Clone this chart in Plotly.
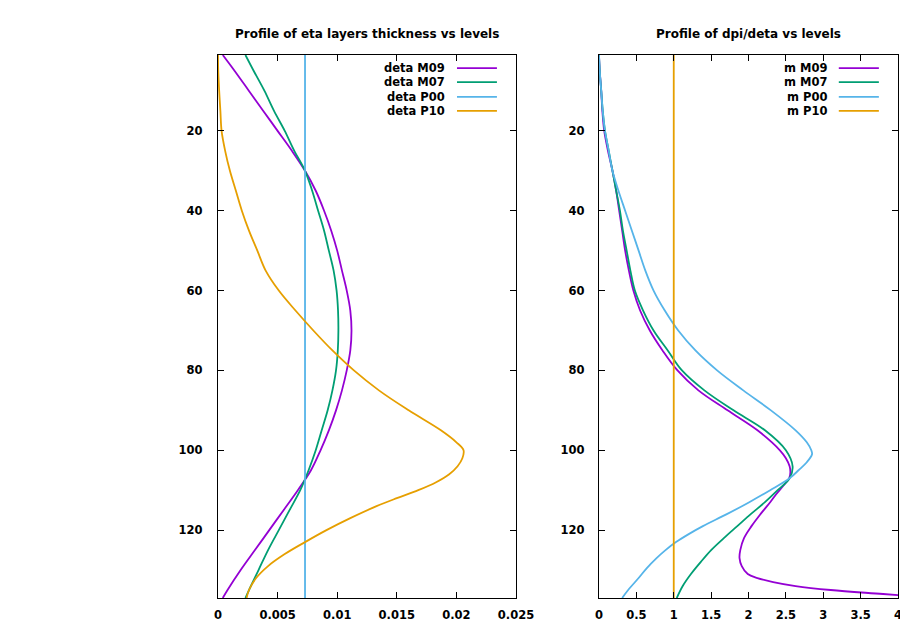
import plotly.graph_objects as go

# ---------------- data ----------------
lev_m09 = [1, 5, 10, 15, 20, 25, 30, 35, 40, 45, 50, 55, 60, 65, 70, 75, 80, 85, 90, 95,
           100, 105, 110, 115, 120, 125, 130, 135, 137]
deta_m09 = [0.0004, 0.0014, 0.0026, 0.0038, 0.0050, 0.0062, 0.0073, 0.0082, 0.0089, 0.0095,
            0.0100, 0.0104, 0.0108, 0.0111, 0.0112, 0.0111, 0.0108, 0.0104, 0.0099, 0.0093,
            0.0086, 0.0078, 0.0067, 0.0055, 0.0043, 0.0031, 0.0019, 0.0008, 0.0004]

lev_m07 = [1, 5, 10, 15, 20, 25, 30, 35, 40, 45, 50, 55, 60, 65, 70, 75, 80, 85, 90, 95,
           100, 105, 110, 115, 120, 125, 130, 135, 137]
deta_m07 = [0.0023, 0.0030, 0.0039, 0.0047, 0.0056, 0.0064, 0.0073, 0.0079, 0.0084, 0.0089,
            0.0093, 0.0097, 0.00995, 0.01007, 0.0101, 0.01005, 0.0099, 0.0096, 0.0092, 0.0087,
            0.0082, 0.0076, 0.0069, 0.0060, 0.0051, 0.0042, 0.0034, 0.0026, 0.0023]

lev_p00 = [1, 137]
deta_p00 = [0.0073, 0.0073]

lev_p10 = [1, 5, 10, 15, 20, 25, 30, 35, 40, 45, 50, 55, 60, 65, 70, 75, 80, 85, 90, 95,
           98, 100, 102, 104, 106, 108, 110, 112, 114, 117, 120, 123, 126, 129, 132, 135, 137]
deta_p10 = [0.0000, 0.00002, 0.0001, 0.0002, 0.0003, 0.0006, 0.0010, 0.0015, 0.0020, 0.0026,
            0.0033, 0.0040, 0.0051, 0.0065, 0.0080, 0.0096, 0.0114, 0.0135, 0.0160, 0.0187,
            0.0200, 0.0206, 0.0205, 0.0201, 0.0194, 0.0183, 0.0168, 0.0150, 0.0133, 0.0111,
            0.0091, 0.0073, 0.0056, 0.0042, 0.0032, 0.0026, 0.0024]

mlev_m09 = [1, 5, 10, 15, 20, 25, 30, 35, 40, 45, 50, 55, 60, 65, 70, 75, 80, 85, 90, 95,
            100, 102, 104, 105.5, 107, 109, 111, 113, 116, 119, 122, 125, 127, 129, 131, 132,
            133, 134, 135, 136, 137]
m_m09 = [0.0, 0.01, 0.03, 0.045, 0.07, 0.12, 0.18, 0.23, 0.27, 0.31, 0.35, 0.40, 0.46, 0.55,
         0.68, 0.85, 1.05, 1.33, 1.72, 2.12, 2.42, 2.50, 2.55, 2.56, 2.545, 2.46, 2.37, 2.29,
         2.16, 2.04, 1.94, 1.89, 1.88, 1.91, 1.99, 2.12, 2.33, 2.63, 3.10, 3.80, 4.50]

mlev_m07 = [1, 5, 10, 15, 20, 25, 30, 35, 40, 45, 50, 55, 60, 65, 70, 75, 80, 85, 90, 95,
            100, 104, 107, 110, 113, 116, 119, 122, 125, 128, 131, 134, 137]
m_m07 = [0.0, 0.01, 0.03, 0.05, 0.08, 0.13, 0.18, 0.23, 0.28, 0.32, 0.37, 0.42, 0.48, 0.59,
         0.73, 0.92, 1.11, 1.41, 1.80, 2.22, 2.50, 2.59, 2.55, 2.39, 2.22, 2.03, 1.85, 1.67,
         1.50, 1.36, 1.23, 1.12, 1.04]

mlev_p00 = [1, 5, 10, 15, 20, 25, 30, 35, 40, 45, 50, 55, 60, 65, 70, 75, 80, 85, 90, 95,
            98, 100, 101, 103, 105, 107, 110, 113, 116, 119, 121, 123, 125, 127, 129.5, 132,
            135, 137]
m_p00 = [0.0, 0.01, 0.03, 0.05, 0.08, 0.13, 0.18, 0.26, 0.35, 0.44, 0.53, 0.62, 0.73, 0.88,
         1.06, 1.29, 1.58, 1.93, 2.30, 2.63, 2.78, 2.84, 2.85, 2.78, 2.67, 2.55, 2.29, 2.01,
         1.71, 1.39, 1.20, 1.03, 0.89, 0.77, 0.64, 0.53, 0.39, 0.31]

mlev_p10 = [1, 137]
m_p10 = [1.0, 1.0]

x1_ticks = [0, 0.005, 0.01, 0.015, 0.02, 0.025]
x1_labels = ["0", "0.005", "0.01", "0.015", "0.02", "0.025"]
x2_ticks = [0, 0.5, 1, 1.5, 2, 2.5, 3, 3.5, 4]
x2_labels = ["0", "0.5", "1", "1.5", "2", "2.5", "3", "3.5", "4"]
y_ticks = [20, 40, 60, 80, 100, 120]

names_left = ["deta M09", "deta M07", "deta P00", "deta P10"]
names_right = ["m M09", "m M07", "m P00", "m P10"]
colors = ["#9400D3", "#009E73", "#56B4E9", "#E69F00"]

# ---------------- figure ----------------
FONT = "DejaVu Sans"
fig = go.Figure()

left = [(deta_m09, lev_m09), (deta_m07, lev_m07), (deta_p00, lev_p00), (deta_p10, lev_p10)]
right = [(m_m09, mlev_m09), (m_m07, mlev_m07), (m_p00, mlev_p00), (m_p10, mlev_p10)]

for (xv, yv), nm, c in zip(left, names_left, colors):
    fig.add_trace(go.Scatter(x=xv, y=yv, mode="lines", name=nm, xaxis="x", yaxis="y",
                             line=dict(color=c, width=1.8, shape="spline", smoothing=1.0),
                             showlegend=False))
for (xv, yv), nm, c in zip(right, names_right, colors):
    fig.add_trace(go.Scatter(x=xv, y=yv, mode="lines", name=nm, xaxis="x2", yaxis="y2",
                             line=dict(color=c, width=1.8, shape="spline", smoothing=1.0),
                             showlegend=False))

W, H = 900, 626


def px(v):
    return v / W


def py(v):
    return (H - v) / H


axis_common = dict(showline=True, linecolor="black", linewidth=1.3, mirror="allticks",
                   ticks="inside", ticklen=6, tickwidth=1.3, tickcolor="black",
                   showgrid=False, zeroline=False, automargin=False,
                   ticklabeloverflow="allow",
                   tickfont=dict(family=FONT, size=11.5, color="black", weight="bold"))

fig.update_layout(
    width=W, height=H,
    margin=dict(l=0, r=0, t=0, b=0, autoexpand=False),
    paper_bgcolor="white", plot_bgcolor="white",
    showlegend=False,
    xaxis=dict(domain=[px(218), px(516)], range=[0, 0.025], tickvals=x1_ticks,
               ticktext=x1_labels, anchor="y", ticklabelstandoff=6, **axis_common),
    yaxis=dict(domain=[py(598), py(55)], range=[137, 1], tickvals=y_ticks,
               anchor="x", ticklabelstandoff=12, **axis_common),
    xaxis2=dict(domain=[px(599), px(898)], range=[0, 4], tickvals=x2_ticks,
                ticktext=x2_labels, anchor="y2", ticklabelstandoff=6, **axis_common),
    yaxis2=dict(domain=[py(598), py(55)], range=[137, 1], tickvals=y_ticks,
                anchor="x2", ticklabelstandoff=11, **axis_common),
)

titles = [("Profile of eta layers thickness vs levels", "x"),
          ("Profile of dpi/deta vs levels", "x2")]
for txt, ax in titles:
    fig.add_annotation(text=txt, xref=f"{ax} domain", yref="paper", x=0.5,
                       y=py(34), xanchor="center", yanchor="middle", showarrow=False,
                       font=dict(family=FONT, size=12, color="black", weight="bold"))

# legends (text right-aligned, line sample on the right)
row_y = [0.976, 0.950, 0.923, 0.897]
for names, ax, ay in [(names_left, "x", "y"), (names_right, "x2", "y2")]:
    for nm, c, ry in zip(names, colors, row_y):
        fig.add_annotation(text=nm, xref=f"{ax} domain", yref=f"{ay} domain", x=0.768,
                           y=ry, xanchor="right", yanchor="middle", showarrow=False,
                           font=dict(family=FONT, size=11.5, color="black", weight="bold"))
        fig.add_shape(type="line", xref=f"{ax} domain", yref=f"{ay} domain",
                      x0=0.802, x1=0.936, y0=ry, y1=ry, line=dict(color=c, width=1.8))

fig.write_html(
    "out.html",
    config={"displayModeBar": False},
    post_script="document.documentElement.style.margin='0';"
                "document.body.style.margin='0';"
                "document.body.style.overflow='hidden';",
)
